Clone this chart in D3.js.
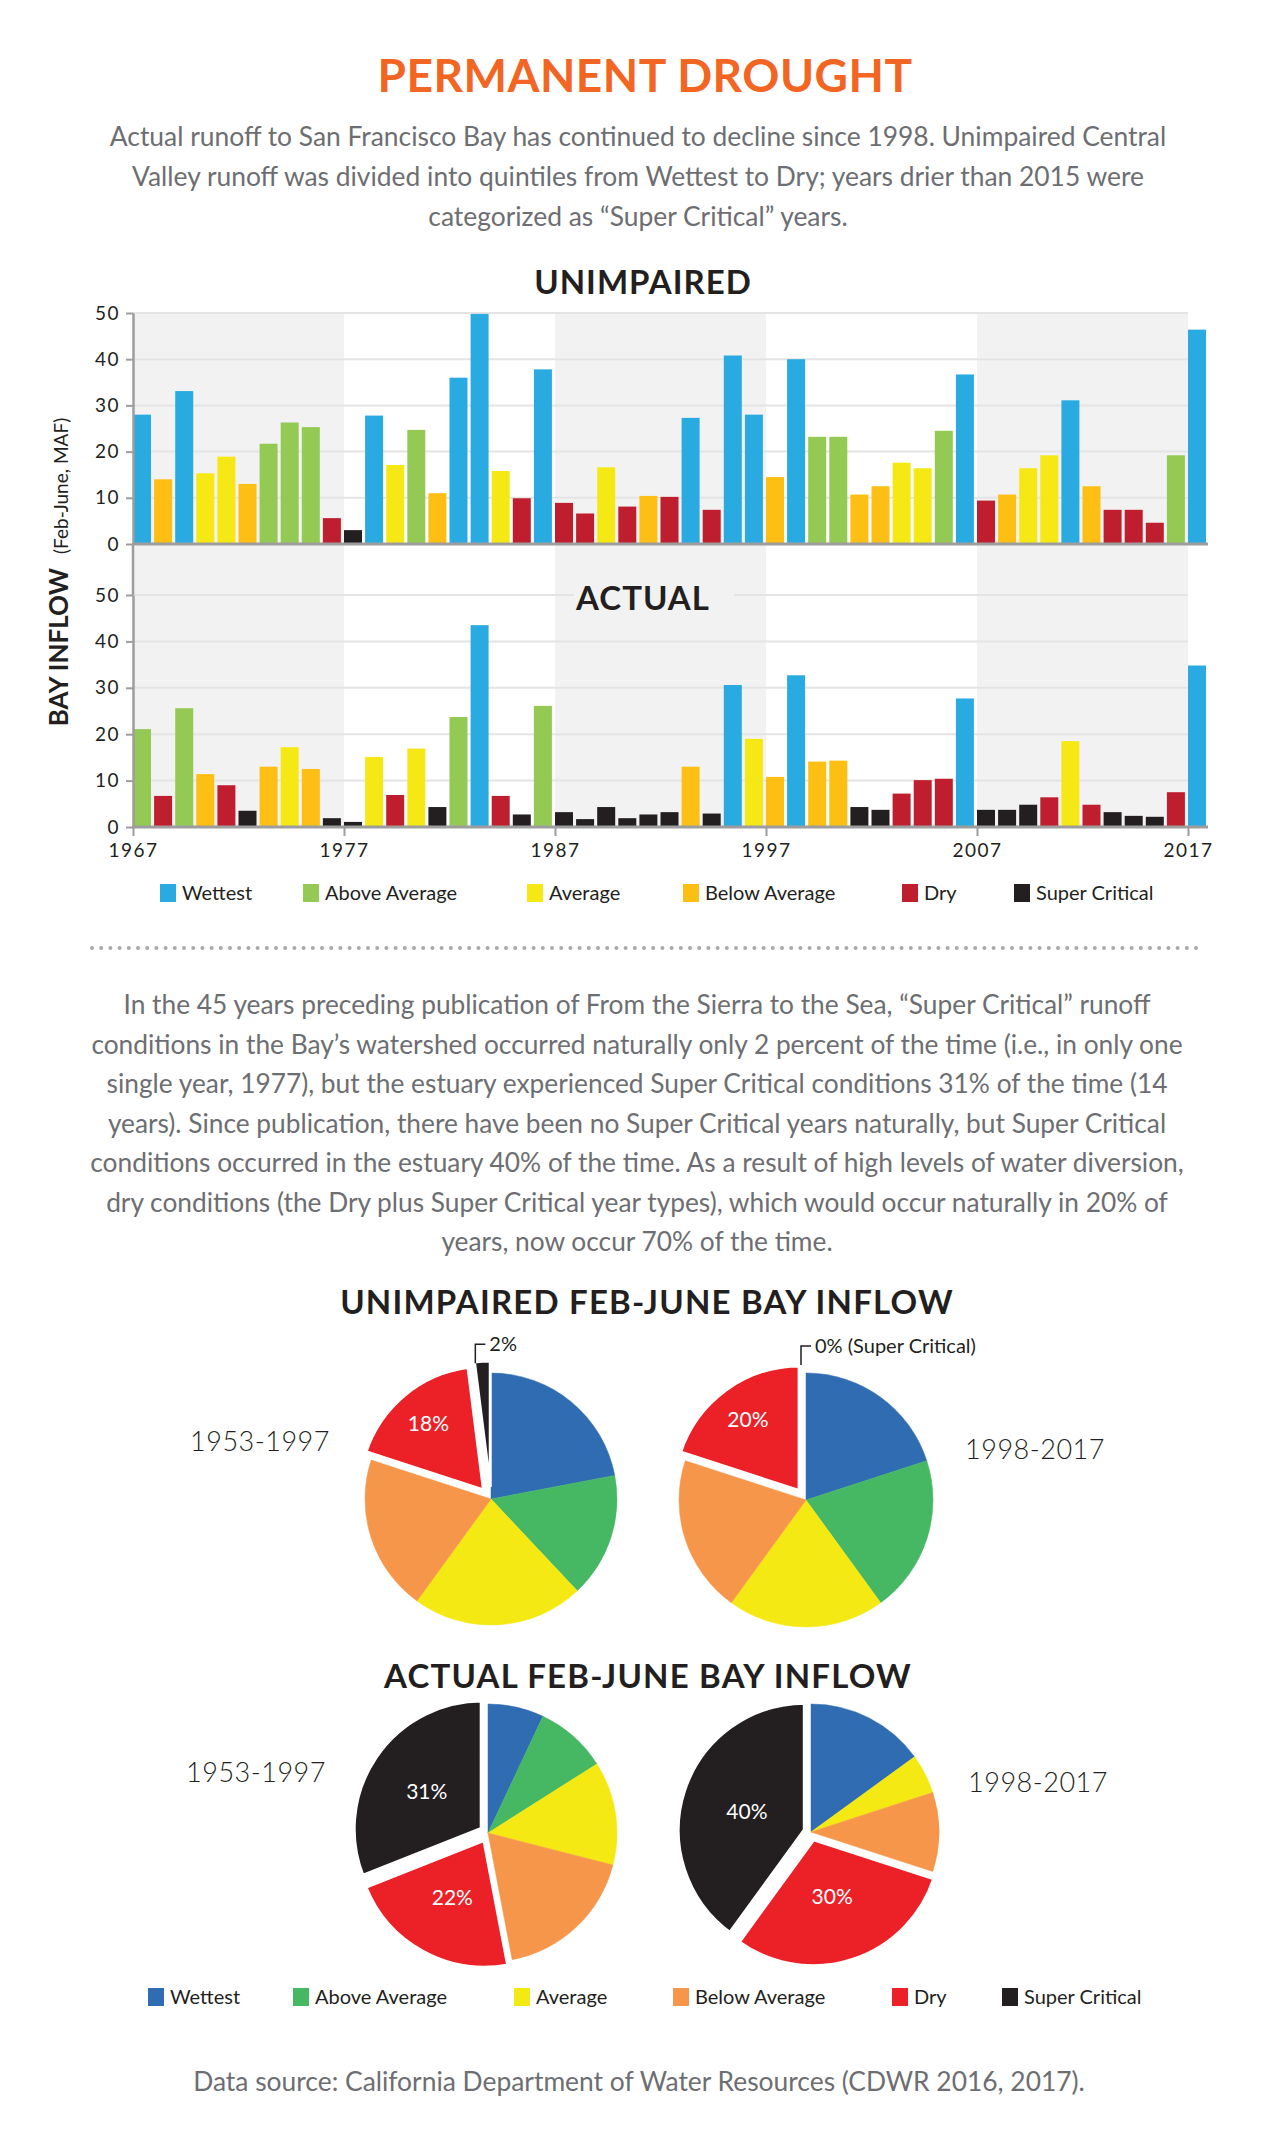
<!DOCTYPE html>
<html><head><meta charset="utf-8">
<script src="https://cdn.jsdelivr.net/npm/d3@7"></script>
<style>
html,body{margin:0;padding:0;background:#fff;}
svg{display:block;font-family:Lato,"Open Sans",sans-serif;}
</style></head><body>
<svg id="chart" width="1280" height="2140"></svg>
<script>
// ---------- DATA ----------
const years = [1967,1968,1969,1970,1971,1972,1973,1974,1975,1976,1977,1978,1979,1980,1981,1982,1983,1984,1985,1986,
  1987,1988,1989,1990,1991,1992,1993,1994,1995,1996,1997,1998,1999,2000,2001,2002,2003,2004,2005,2006,
  2007,2008,2009,2010,2011,2012,2013,2014,2015,2016,2017];
const unimpairedValues = [28,14,33.1,15.3,18.9,13,21.7,26.3,25.3,5.6, 3.0,27.8,17.1,24.7,11.0,36.0,49.8,15.8,9.9,37.8,
  8.9,6.6,16.6,8.1,10.4,10.2,27.3,7.4,40.8,28.0, 14.5,40.0,23.2,23.2,10.7,12.5,17.6,16.4,24.5,36.7,
  9.4,10.7,16.4,19.2,31.1,12.5,7.4,7.4,4.6,19.2, 46.4];
const unimpairedTypes = ["W","BA","W","A","A","BA","AA","AA","AA","D", "SC","W","A","AA","BA","W","W","A","D","W",
  "D","D","A","D","BA","D","W","D","W","W", "BA","W","AA","AA","BA","BA","A","A","AA","W",
  "D","BA","A","A","W","BA","D","D","D","AA", "W"];
const actualValues = [21.1,6.7,25.6,11.4,9.0,3.5,13.0,17.2,12.5,1.9, 1.1,15.1,6.9,16.9,4.3,23.7,43.5,6.7,2.7,26.1,
  3.2,1.7,4.3,1.9,2.7,3.2,13.0,2.9,30.6,19.0, 10.8,32.7,14.1,14.3,4.3,3.7,7.2,10.1,10.4,27.7,
  3.7,3.7,4.8,6.4,18.5,4.8,3.2,2.4,2.2,7.5, 34.8];
const actualTypes = ["AA","D","AA","BA","D","SC","BA","A","BA","SC", "SC","A","D","A","SC","AA","W","D","SC","AA",
  "SC","SC","SC","SC","SC","SC","BA","SC","W","A", "BA","W","BA","BA","SC","SC","D","D","D","W",
  "SC","SC","SC","D","A","D","SC","SC","SC","D", "W"];
const typeCodes = ["W","AA","A","BA","D","SC"];
const categories = ["Wettest","Above Average","Average","Below Average","Dry","Super Critical"];
const yTicks = [0,10,20,30,40,50];
const xTickYears = [1967,1977,1987,1997,2007,2017];
const shadedDecades = [[1967,1977],[1987,1997],[2007,2017]];

const pieUnimpaired1953 = [22,16,22,20,18,2];
const pieUnimpaired1998 = [20,20,20,20,20,0];
const pieActual1953 = [7,9,13,18,22,31];
const pieActual1998 = [15,0,5,10,30,40];

const titleText = "PERMANENT DROUGHT";
const introLines = [
  "Actual runoff to San Francisco Bay has continued to decline since 1998. Unimpaired Central",
  "Valley runoff was divided into quintiles from Wettest to Dry; years drier than 2015 were",
  "categorized as \u201cSuper Critical\u201d years."
];
const bodyLines = [
  "In the 45 years preceding publication of From the Sierra to the Sea, \u201cSuper Critical\u201d runoff",
  "conditions in the Bay\u2019s watershed occurred naturally only 2 percent of the time (i.e., in only one",
  "single year, 1977), but the estuary experienced Super Critical conditions 31% of the time (14",
  "years). Since publication, there have been no Super Critical years naturally, but Super Critical",
  "conditions occurred in the estuary 40% of the time. As a result of high levels of water diversion,",
  "dry conditions (the Dry plus Super Critical year types), which would occur naturally in 20% of",
  "years, now occur 70% of the time."
];
const sourceText = "Data source: California Department of Water Resources (CDWR 2016, 2017).";

// ---------- STYLE ----------
const barColors = {"Wettest":"#29abe2","Above Average":"#94c954","Average":"#f5e814","Below Average":"#fdbf13","Dry":"#be1e2d","Super Critical":"#231f20"};
const pieColors = {"Wettest":"#306cb2","Above Average":"#46b864","Average":"#f5e914","Below Average":"#f6964a","Dry":"#ec2027","Super Critical":"#231f20"};
const dark = "#231f20", grey = "#6d6e71", axisGrey = "#9d9d9d", bandGrey = "#f2f2f2", gridGrey = "#e4e4e4";

const svg = d3.select("#chart");

// ---------- HEADER ----------
svg.append("text").attr("x",645).attr("y",92).attr("text-anchor","middle")
  .attr("font-size",46).attr("font-weight",700).attr("fill","#f26522").attr("letter-spacing",0.5).text(titleText);
svg.append("g").selectAll("text").data(introLines).join("text")
  .attr("x",638).attr("y",(d,i)=>146+i*40).attr("text-anchor","middle")
  .attr("font-size",26.4).attr("fill",grey).text(d=>d);

// ---------- BAR CHARTS ----------
const x = d3.scaleBand().domain(years).range([133,1206]).paddingInner(0.147).paddingOuter(0);
const xYear = d3.scaleLinear().domain([1967,2017]).range([x(1967), x(2017)]);
const yU = d3.scaleLinear().domain([0,50]).range([544,313]);
const yA = d3.scaleLinear().domain([0,50]).range([827,595]);

svg.append("g").selectAll("rect").data(shadedDecades).join("rect")
  .attr("x",d=>xYear(d[0])).attr("width",d=>xYear(d[1])-xYear(d[0]))
  .attr("y",yU(50)-1).attr("height",yA(0)-yU(50)+1).attr("fill",bandGrey);

function drawBars(yScale, values, types){
  const g = svg.append("g");
  g.selectAll("line.grid").data(yTicks.filter(t=>t>0)).join("line").attr("class","grid")
    .attr("x1",xYear(1967)).attr("x2",xYear(2017)).attr("y1",d=>yScale(d)).attr("y2",d=>yScale(d))
    .attr("stroke",gridGrey).attr("stroke-width",2);
  const data = years.map((yr,i)=>({yr, v:values[i], t:categories[typeCodes.indexOf(types[i])]}));
  g.selectAll("rect").data(data).join("rect")
    .attr("x",d=>x(d.yr)).attr("width",x.bandwidth())
    .attr("y",d=>yScale(d.v)).attr("height",d=>yScale(0)-yScale(d.v))
    .attr("fill",d=>barColors[d.t]);
  return g;
}
drawBars(yU, unimpairedValues, unimpairedTypes);
drawBars(yA, actualValues, actualTypes);

svg.append("text").attr("x",643).attr("y",294).attr("text-anchor","middle")
  .attr("font-size",33).attr("font-weight",700).attr("letter-spacing",1).attr("fill",dark).text("UNIMPAIRED");
svg.append("rect").attr("x",574).attr("y",584).attr("width",160).attr("height",32).attr("fill",bandGrey);
svg.append("text").attr("x",643).attr("y",610).attr("text-anchor","middle")
  .attr("font-size",33).attr("font-weight",700).attr("letter-spacing",1).attr("fill",dark).text("ACTUAL");

function styleAxis(g){
  g.select(".domain").attr("stroke",axisGrey).attr("stroke-width",2.5);
  g.selectAll(".tick line").attr("stroke",axisGrey).attr("stroke-width",2);
  g.selectAll(".tick text").attr("fill",dark).attr("font-size",19).attr("letter-spacing",1.5)
    .attr("font-family","Lato, sans-serif");
}
[yU,yA].forEach(s=>{
  const g = svg.append("g").attr("transform",`translate(${xYear(1967)},0)`)
    .call(d3.axisLeft(s).tickValues(yTicks).tickSize(7).tickSizeOuter(0).tickPadding(6));
  styleAxis(g);
});
svg.append("line").attr("x1",xYear(1967)).attr("x2",xYear(1967)).attr("y1",yU(0)).attr("y2",yA(50))
  .attr("stroke",axisGrey).attr("stroke-width",2.5);
[yU,yA].forEach(s=>{
  svg.append("line").attr("x1",xYear(1967)-1).attr("x2",x(2017)+x.bandwidth()+2)
    .attr("y1",s(0)).attr("y2",s(0)).attr("stroke",axisGrey).attr("stroke-width",3);
});
const gx = svg.append("g").attr("transform",`translate(0,${yA(0)})`)
  .call(d3.axisBottom(xYear).tickValues(xTickYears).tickFormat(d3.format("d")).tickSize(9).tickSizeOuter(0).tickPadding(8));
styleAxis(gx);
gx.select(".domain").remove();

const yt = svg.append("text").attr("transform","translate(68,572) rotate(-90)").attr("text-anchor","middle").attr("fill",dark);
yt.append("tspan").attr("font-size",26).attr("font-weight",700).text("BAY INFLOW");
yt.append("tspan").attr("font-size",19).attr("dx",14).text("(Feb-June, MAF)");

function drawLegend(y, xs, colors){
  const g = svg.append("g").selectAll("g").data(categories).join("g")
    .attr("transform",(d,i)=>`translate(${xs[i]},${y})`);
  g.append("rect").attr("x",0).attr("y",-9).attr("width",16).attr("height",18).attr("fill",d=>colors[d]);
  g.append("text").attr("x",22).attr("y",7).attr("font-size",20).attr("fill",dark).text(d=>d);
}
drawLegend(893,[160,303,527,683,902,1014],barColors);

svg.append("line").attr("x1",92).attr("x2",1198).attr("y1",948).attr("y2",948)
  .attr("stroke","#a7a9ac").attr("stroke-width",4).attr("stroke-linecap","round").attr("stroke-dasharray","0 9.2");

svg.append("g").selectAll("text").data(bodyLines).join("text")
  .attr("x",637).attr("y",(d,i)=>1014+i*39.5).attr("text-anchor","middle")
  .attr("font-size",26.3).attr("fill",grey).text(d=>d);

// ---------- PIES ----------
svg.append("text").attr("x",647).attr("y",1314).attr("text-anchor","middle")
  .attr("font-size",33).attr("font-weight",700).attr("letter-spacing",1.2).attr("fill",dark).text("UNIMPAIRED FEB-JUNE BAY INFLOW");
svg.append("text").attr("x",648).attr("y",1688).attr("text-anchor","middle")
  .attr("font-size",33).attr("font-weight",700).attr("letter-spacing",1.2).attr("fill",dark).text("ACTUAL FEB-JUNE BAY INFLOW");

function drawPie(cfg){
  const arcs = d3.pie().sort(null).value(d=>d)(cfg.values).map((a,i)=>({...a, cat:categories[i]}));
  const arc = d3.arc().innerRadius(0).outerRadius(cfg.r);
  const g = svg.append("g").attr("transform",`translate(${cfg.cx},${cfg.cy})`);
  const off = a => { const m=(a.startAngle+a.endAngle)/2, d=cfg.explode[a.cat]||0; return [Math.sin(m)*d, -Math.cos(m)*d]; };
  const normal = arcs.filter(a=>!cfg.explode[a.cat] && a.value>0);
  const exploded = arcs.filter(a=>cfg.explode[a.cat] && a.value>0);
  g.selectAll("path.n").data(normal).join("path").attr("class","n").attr("d",arc)
    .attr("fill",d=>pieColors[d.cat]).attr("stroke",d=>pieColors[d.cat]).attr("stroke-width",0.5);
  g.selectAll("path.e").data(exploded).join("path").attr("class","e").attr("d",arc)
    .attr("transform",d=>`translate(${off(d)})`)
    .attr("fill",d=>pieColors[d.cat]).attr("stroke","#fff").attr("stroke-width",d=>d.value<5?3:5).attr("stroke-linejoin","miter");
  const lab = arcs.filter(a=>cfg.inner.includes(a.cat));
  const la = d3.arc().innerRadius(cfg.r*cfg.k).outerRadius(cfg.r*cfg.k);
  g.selectAll("text.in").data(lab).join("text").attr("class","in")
    .attr("transform",d=>{const c=la.centroid(d), o=off(d); return `translate(${c[0]+o[0]},${c[1]+o[1]})`;})
    .attr("text-anchor","middle").attr("dy","0.35em").attr("font-size",21).attr("fill","#fff")
    .text(d=>d.value+"%");
  if (cfg.callout){
    const a = arcs.find(d=>d.cat===cfg.callout.cat);
    const m=(a.startAngle+a.endAngle)/2, R = cfg.r + (cfg.explode[a.cat]||0);
    const px = Math.sin(m)*R - cfg.callout.shift, py = -Math.cos(m)*R + 2;
    g.append("path").attr("d",`M${px},${py}V${py-19}H${px+10}`).attr("fill","none").attr("stroke",dark).attr("stroke-width",1.5);
    g.append("text").attr("x",px+14).attr("y",py-19).attr("dy","0.35em").attr("font-size",20).attr("fill",dark)
      .text(a.value+"%"+cfg.callout.suffix);
  }
  svg.append("text").attr("x",cfg.lx).attr("y",cfg.ly).attr("text-anchor","middle")
    .attr("font-size",27).attr("font-weight",300).attr("fill",dark).attr("letter-spacing",0.5).text(cfg.period);
}
drawPie({cx:491,cy:1499,r:126,values:pieUnimpaired1953,explode:{"Dry":10,"Super Critical":12},
  inner:["Dry"],k:0.7,callout:{cat:"Super Critical",suffix:"",shift:7},period:"1953-1997",lx:260,ly:1451});
drawPie({cx:806,cy:1500,r:127,values:pieUnimpaired1998,explode:{"Dry":10,"Super Critical":10},
  inner:["Dry"],k:0.7,callout:{cat:"Super Critical",suffix:" (Super Critical)",shift:5},period:"1998-2017",lx:1035,ly:1459});
drawPie({cx:488,cy:1833,r:129,values:pieActual1953,explode:{"Dry":7,"Super Critical":7},
  inner:["Dry","Super Critical"],k:0.52,period:"1953-1997",lx:256,ly:1782});
drawPie({cx:811,cy:1832,r:128,values:pieActual1998,explode:{"Dry":7,"Super Critical":6},
  inner:["Dry","Super Critical"],k:0.48,period:"1998-2017",lx:1038,ly:1792});

drawLegend(1997,[148,293,514,673,892,1002],pieColors);

svg.append("text").attr("x",639).attr("y",2091).attr("text-anchor","middle")
  .attr("font-size",26.4).attr("fill",grey).text(sourceText);
</script>
</body></html>
